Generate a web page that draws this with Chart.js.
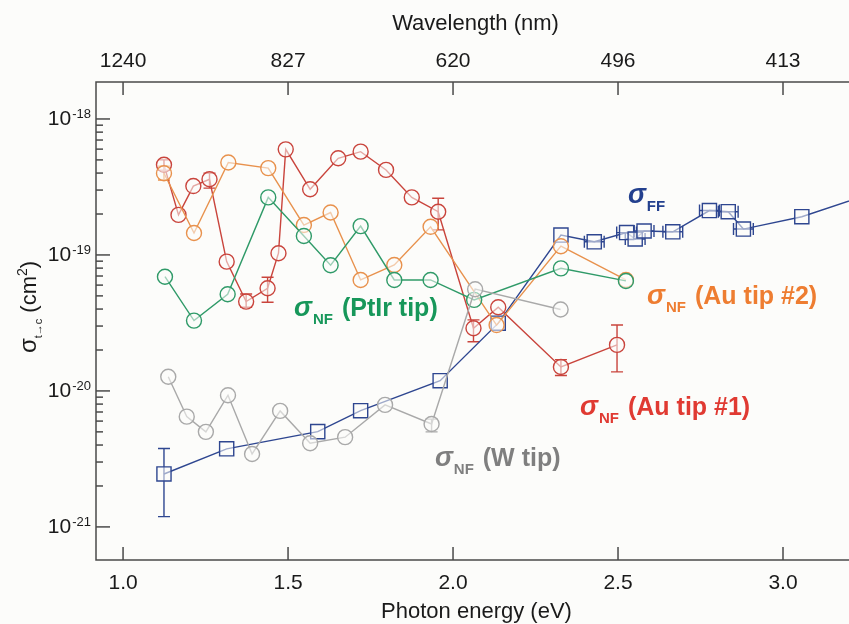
<!DOCTYPE html>
<html>
<head>
<meta charset="utf-8">
<script src="https://cdn.jsdelivr.net/npm/chart.js@4.4.1/dist/chart.umd.min.js"></script>
<style>
  html, body { margin: 0; padding: 0; background: #fcfcfa; overflow: hidden; }
  #wrap { width: 849px; height: 624px; position: relative; }
  #myChart { display: block; }
</style>
</head>
<body>
<div id="wrap"><canvas id="myChart"></canvas></div>
<script>
/* data: photon energy (eV), cross section (cm^2) */
const ffEnergy = [1.124, 1.314, 1.590, 1.720, 1.961, 2.137, 2.327, 2.428, 2.526, 2.552, 2.579, 2.666, 2.777, 2.834, 2.880, 3.057, 3.30];
const ffSigma  = [2.45e-21, 3.75e-21, 5.02e-21, 7.16e-21, 1.19e-20, 3.15e-20, 1.40e-19, 1.25e-19, 1.46e-19, 1.31e-19, 1.50e-19, 1.48e-19, 2.12e-19, 2.08e-19, 1.55e-19, 1.91e-19, 3.0e-19];
const ffErrHi  = [3.77e-21, null, null, null, null, null, null, null, null, null, null, null, null, null, null, null, null];
const ffErrLo  = [1.19e-21, null, null, null, null, null, null, null, null, null, null, null, null, null, null, null, null];
const ffErrX   = [0, 0, 0, 0, 0, 0, 0, 0.03, 0.03, 0.03, 0.03, 0.03, 0.03, 0.03, 0.03, 0, 0];

const wEnergy = [1.137, 1.193, 1.251, 1.318, 1.391, 1.476, 1.567, 1.673, 1.794, 1.935, 2.067, 2.326];
const wSigma  = [1.27e-20, 6.47e-21, 5.0e-21, 9.3e-21, 3.44e-21, 7.13e-21, 4.12e-21, 4.57e-21, 7.89e-21, 5.71e-21, 5.6e-20, 3.97e-20];
const wErrHi  = [null, null, null, null, null, null, null, null, null, 6.2e-21, null, null];
const wErrLo  = [null, null, null, null, null, null, null, null, null, 5.0e-21, null, null];

const ptirEnergy = [1.127, 1.215, 1.317, 1.440, 1.548, 1.629, 1.720, 1.822, 1.932, 2.064, 2.327, 2.524];
const ptirSigma  = [6.92e-20, 3.29e-20, 5.14e-20, 2.65e-19, 1.38e-19, 8.4e-20, 1.63e-19, 6.55e-20, 6.55e-20, 4.67e-20, 7.97e-20, 6.44e-20];

const au2Energy = [1.124, 1.215, 1.319, 1.440, 1.548, 1.629, 1.720, 1.822, 1.932, 2.132, 2.327, 2.524];
const au2Sigma  = [3.99e-19, 1.45e-19, 4.78e-19, 4.35e-19, 1.66e-19, 2.05e-19, 6.55e-20, 8.44e-20, 1.61e-19, 3.05e-20, 1.16e-19, 6.55e-20];
const au2ErrHi  = [4.5e-19, null, null, null, null, null, null, null, null, null, null, null];
const au2ErrLo  = [3.56e-19, null, null, null, null, null, null, null, null, null, null, null];

const au1Energy = [1.124, 1.168, 1.213, 1.262, 1.314, 1.373, 1.438, 1.471, 1.493, 1.567, 1.652, 1.720, 1.797, 1.875, 1.955, 2.062, 2.137, 2.327, 2.497];
const au1Sigma  = [4.6e-19, 1.97e-19, 3.21e-19, 3.6e-19, 8.93e-20, 4.54e-20, 5.69e-20, 1.03e-19, 5.98e-19, 3.04e-19, 5.14e-19, 5.75e-19, 4.22e-19, 2.65e-19, 2.08e-19, 2.89e-20, 4.12e-20, 1.5e-20, 2.18e-20];
const au1ErrHi  = [5.0e-19, null, null, 4.0e-19, null, 5.16e-20, 6.85e-20, null, null, null, null, null, null, null, 2.61e-19, 3.33e-20, null, 1.7e-20, 3.05e-20];
const au1ErrLo  = [4.2e-19, null, null, 3.1e-19, null, 4.12e-20, 4.49e-20, null, null, null, null, null, null, null, 1.53e-19, 2.30e-20, null, 1.3e-20, 1.38e-20];

/* ticks */
const energyTicks = [1.0, 1.5, 2.0, 2.5, 3.0];
const energyLabels = ['1.0', '1.5', '2.0', '2.5', '3.0'];
const wavelengthLabels = ['1240', '827', '620', '496', '413'];
const sigmaDecades = [1e-18, 1e-19, 1e-20, 1e-21];
const sigmaExponents = ['-18', '-19', '-20', '-21'];

/* in-plot tags, placed in data units */
const tags = [
  {x: 2.530, y: 2.41e-19, sub: 'FF', text: '', color: '#23408e'},
  {x: 2.588, y: 4.37e-20, sub: 'NF', text: '(Au tip #2)', color: '#ee7d31'},
  {x: 1.518, y: 3.56e-20, sub: 'NF', text: '(PtIr tip)', color: '#17975a'},
  {x: 1.945, y: 2.81e-21, sub: 'NF', text: '(W tip)', color: '#7f7f7f'},
  {x: 2.385, y: 6.67e-21, sub: 'NF', text: '(Au tip #1)', color: '#e03a32'},
];

const FONT = '"Liberation Sans", Arial, sans-serif';
const BG = '#fcfcfa';

function pts(xs, ys) {
  return xs.map((x, i) => ({x: x, y: ys[i]}));
}

function series(label, xs, ys, color, style, extra) {
  return Object.assign({
    label: label,
    data: pts(xs, ys),
    showLine: true,
    borderColor: color,
    backgroundColor: 'rgba(252,252,250,0.55)',
    borderWidth: 1.4,
    pointStyle: style,
    pointRadius: style === 'rect' ? 10 : 7.5,
    pointBorderWidth: 1.4,
    pointBorderColor: color,
    pointBackgroundColor: 'rgba(252,252,250,0.55)',
  }, extra || {});
}

const frame = {
  id: 'frame',
  beforeDraw(chart) {
    const ctx = chart.ctx;
    ctx.save();
    ctx.fillStyle = BG;
    ctx.fillRect(0, 0, chart.width, chart.height);
    ctx.restore();
  },
  beforeDatasetsDraw(chart) {
    // error bars
    const {ctx, chartArea: a} = chart;
    const xs = chart.scales.x, ys = chart.scales.y;
    ctx.save();
    ctx.beginPath();
    ctx.rect(a.left, a.top, a.right - a.left, a.bottom - a.top);
    ctx.clip();
    chart.data.datasets.forEach(ds => {
      ctx.strokeStyle = ds.borderColor;
      ctx.lineWidth = 1.4;
      ds.data.forEach((p, i) => {
        const px = xs.getPixelForValue(p.x);
        const py = ys.getPixelForValue(p.y);
        if (ds.errHi && ds.errHi[i] != null) {
          const y1 = ys.getPixelForValue(ds.errHi[i]);
          const y2 = ys.getPixelForValue(ds.errLo[i]);
          ctx.beginPath();
          ctx.moveTo(px, y1); ctx.lineTo(px, y2);
          ctx.moveTo(px - 6, y1); ctx.lineTo(px + 6, y1);
          ctx.moveTo(px - 6, y2); ctx.lineTo(px + 6, y2);
          ctx.stroke();
        }
        if (ds.errX && ds.errX[i]) {
          const x1 = xs.getPixelForValue(p.x - ds.errX[i]);
          const x2 = xs.getPixelForValue(p.x + ds.errX[i]);
          ctx.beginPath();
          ctx.moveTo(x1, py); ctx.lineTo(x2, py);
          ctx.moveTo(x1, py - 6); ctx.lineTo(x1, py + 6);
          ctx.moveTo(x2, py - 6); ctx.lineTo(x2, py + 6);
          ctx.stroke();
        }
      });
    });
    ctx.restore();
  },
  afterDraw(chart) {
    const {ctx, chartArea: a} = chart;
    const xs = chart.scales.x, ys = chart.scales.y;
    ctx.save();
    // frame
    ctx.strokeStyle = '#4a4a4a';
    ctx.lineWidth = 1.5;
    ctx.beginPath();
    ctx.moveTo(a.right, a.top); ctx.lineTo(a.left, a.top);
    ctx.lineTo(a.left, a.bottom); ctx.lineTo(a.right, a.bottom);
    ctx.stroke();

    // x ticks, bottom and top
    ctx.fillStyle = '#1a1a1a';
    ctx.font = '21px ' + FONT;
    ctx.textAlign = 'center';
    ctx.textBaseline = 'middle';
    energyTicks.forEach((e, i) => {
      const px = xs.getPixelForValue(e);
      ctx.beginPath();
      ctx.moveTo(px, a.bottom); ctx.lineTo(px, a.bottom - 13);
      ctx.moveTo(px, a.top); ctx.lineTo(px, a.top + 13);
      ctx.stroke();
      ctx.fillText(energyLabels[i], px, a.bottom + 23);
      ctx.fillText(wavelengthLabels[i], px, a.top - 21);
    });

    // y ticks (log)
    sigmaDecades.forEach(d => {
      for (let m = 1; m <= 9; m++) {
        const v = d * m;
        if (v < ys.min || v > ys.max) continue;
        const py = ys.getPixelForValue(v);
        ctx.beginPath();
        ctx.moveTo(a.left, py); ctx.lineTo(a.left + (m === 1 ? 14 : 7), py);
        ctx.stroke();
      }
    });
    sigmaDecades.forEach((d, i) => {
      const py = ys.getPixelForValue(d);
      ctx.textAlign = 'left';
      ctx.textBaseline = 'middle';
      ctx.font = '13px ' + FONT;
      const we = ctx.measureText(sigmaExponents[i]).width;
      ctx.font = '21px ' + FONT;
      const wb = ctx.measureText('10').width;
      const x0 = a.left - 6 - we - wb;
      ctx.fillText('10', x0, py);
      ctx.font = '13px ' + FONT;
      ctx.textBaseline = 'alphabetic';
      ctx.fillText(sigmaExponents[i], x0 + wb + 1, py - 1);
    });

    // axis titles
    ctx.font = '22px ' + FONT;
    ctx.textAlign = 'center';
    ctx.textBaseline = 'middle';
    ctx.fillText('Photon energy (eV)', (a.left + a.right) / 2 + 4, a.bottom + 52);
    ctx.fillText('Wavelength (nm)', (a.left + a.right) / 2 + 3, a.top - 58);

    // y title, rotated
    ctx.save();
    ctx.translate(36, 307);
    ctx.rotate(-Math.PI / 2);
    ctx.textAlign = 'left';
    ctx.textBaseline = 'alphabetic';
    const parts = [
      {t: 'σ', f: '24px ', dy: 0},
      {t: 't→c', f: '11px ', dy: 6},
      {t: ' (cm', f: '22px ', dy: 0},
      {t: '2', f: '14px ', dy: -9},
      {t: ')', f: '22px ', dy: 0},
    ];
    let tw = 0;
    parts.forEach(p => { ctx.font = p.f + FONT; tw += ctx.measureText(p.t).width; });
    let cx = -tw / 2;
    parts.forEach(p => {
      ctx.font = p.f + FONT;
      ctx.fillText(p.t, cx, p.dy);
      cx += ctx.measureText(p.t).width;
    });
    ctx.restore();

    // series tags
    ctx.textAlign = 'left';
    ctx.textBaseline = 'alphabetic';
    tags.forEach(t => {
      const px = xs.getPixelForValue(t.x);
      const py = ys.getPixelForValue(t.y);
      ctx.fillStyle = t.color;
      ctx.font = 'italic bold 27px ' + FONT;
      ctx.fillText('σ', px, py);
      let x = px + ctx.measureText('σ').width + 1;
      ctx.font = 'bold 15px ' + FONT;
      ctx.fillText(t.sub, x, py + 8);
      x += ctx.measureText(t.sub).width + 9;
      if (t.text) {
        ctx.font = 'bold 25px ' + FONT;
        ctx.fillText(t.text, x, py);
      }
    });
    ctx.restore();
  }
};

const ctx = document.getElementById('myChart').getContext('2d');
const myChart = new Chart(ctx, {
  type: 'scatter',
  data: {
    datasets: [
      series('W tip', wEnergy, wSigma, '#a9a9a9', 'circle', {errHi: wErrHi, errLo: wErrLo}),
      series('PtIr tip', ptirEnergy, ptirSigma, '#2f9a68', 'circle'),
      series('Au tip #2', au2Energy, au2Sigma, '#e8914c', 'circle', {errHi: au2ErrHi, errLo: au2ErrLo}),
      series('Au tip #1', au1Energy, au1Sigma, '#c9443c', 'circle', {errHi: au1ErrHi, errLo: au1ErrLo}),
      series('FF', ffEnergy, ffSigma, '#2e4690', 'rect', {errHi: ffErrHi, errLo: ffErrLo, errX: ffErrX}),
    ]
  },
  options: {
    responsive: true,
    maintainAspectRatio: false,
    animation: false,
    devicePixelRatio: 1,
    layout: {autoPadding: false, padding: {left: 96, top: 82, right: 0, bottom: 64}},
    plugins: {legend: {display: false}, tooltip: {enabled: false}},
    scales: {
      x: {type: 'linear', min: 0.918, max: 3.2, display: false},
      y: {type: 'logarithmic', min: 5.71e-22, max: 1.87e-18, display: false}
    }
  },
  plugins: [frame]
});
</script>
</body>
</html>
